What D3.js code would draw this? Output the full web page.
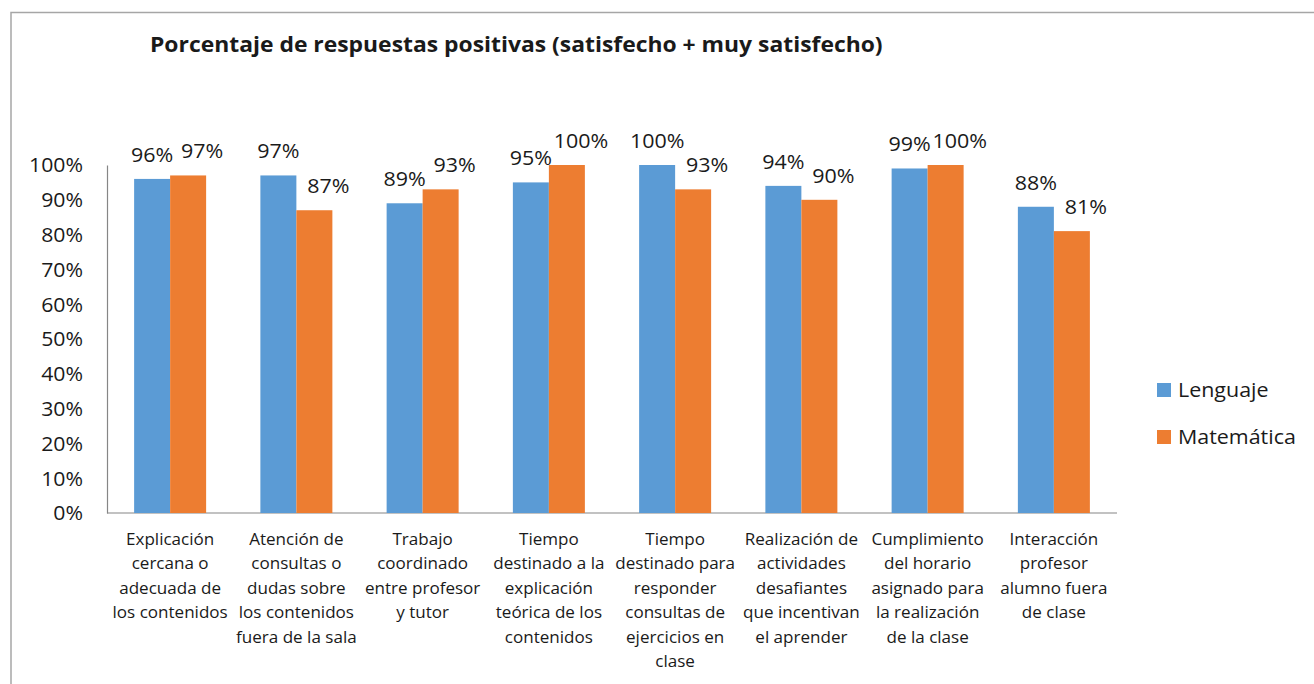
<!DOCTYPE html>
<html>
<head>
<meta charset="utf-8">
<script src="https://cdn.jsdelivr.net/npm/d3@7"></script>
<style>
  body { margin: 0; background: white; }
  text { font-family: "Open Sans", sans-serif; fill: #1a1a1a; }
</style>
</head>
<body>
<div id="viz"></div>
<script>

const width = 1314
const height = 684

// data
const categories = [
    ["Explicación", "cercana o", "adecuada de", "los contenidos"],
    ["Atención de", "consultas o", "dudas sobre", "los contenidos", "fuera de la sala"],
    ["Trabajo", "coordinado", "entre profesor", "y tutor"],
    ["Tiempo", "destinado a la", "explicación", "teórica de los", "contenidos"],
    ["Tiempo", "destinado para", "responder", "consultas de", "ejercicios en", "clase"],
    ["Realización de", "actividades", "desafiantes", "que incentivan", "el aprender"],
    ["Cumplimiento", "del horario", "asignado para", "la realización", "de la clase"],
    ["Interacción", "profesor", "alumno fuera", "de clase"]
]
const seriesNames = ["Lenguaje", "Matemática"]
const lenguaje = [96, 97, 89, 95, 100, 94, 99, 88]
const matematica = [97, 87, 93, 100, 93, 90, 100, 81]
const yTicks = [0, 10, 20, 30, 40, 50, 60, 70, 80, 90, 100]

const colors = ["#5b9bd5", "#ed7d31"]
// the original text is a bit wide, so stretch it sideways
const sx = 1.1

const svg = d3.select("#viz").append("svg").attr("width", width).attr("height", height)

function wideText(parent, x, y) {
    return parent.append("text").attr("transform", `translate(${x}, ${y}) scale(${sx}, 1)`)
}

// frame
svg.append("path").attr("d", `M 11 ${height} L 11 12.5 L ${width} 12.5`)
    .attr("fill", "none").attr("stroke", "#a6a6a6").attr("stroke-width", 1.5)

wideText(svg, 150, 52).attr("font-size", 20.8).attr("font-weight", "bold")
    .text("Porcentaje de respuestas positivas (satisfecho + muy satisfecho)")

const plot = {left: 107, right: 1117, top: 165, bottom: 513}

const xScale = d3.scaleBand().domain(d3.range(categories.length)).range([plot.left, plot.right])
const xInner = d3.scaleBand().domain([0, 1]).range([0, 72])
const yScale = d3.scaleLinear().domain([0, 100]).range([plot.bottom, plot.top])

// y axis
const yAxis = d3.axisLeft(yScale).tickValues(yTicks).tickFormat(d => d + "%").tickSize(0).tickPadding(0)
const yAxisGroup = svg.append("g").attr("transform", `translate(${plot.left}, 0)`).call(yAxis)
yAxisGroup.select(".domain").attr("stroke", "#868686").attr("stroke-width", 1.2)
yAxisGroup.selectAll(".tick text").attr("x", null).attr("dy", "0.36em")
    .attr("transform", `translate(-24, 0) scale(${sx}, 1)`)
    .attr("font-size", 19.3).attr("font-family", "'Open Sans', sans-serif").attr("fill", "#1a1a1a")

// x axis line
svg.append("line").attr("x1", plot.left).attr("x2", plot.right).attr("y1", plot.bottom).attr("y2", plot.bottom)
    .attr("stroke", "#868686").attr("stroke-width", 1.2)

const series = [lenguaje, matematica]
// Excel nudges the second series' labels to the right
const labelNudge = [0, 14]
const barsGroup = svg.append("g")
series.forEach((values, s) => {
    const g = barsGroup.append("g")
    const barX = i => xScale(i) + xScale.bandwidth() / 2 - 36 + xInner(s)
    g.selectAll("rect").data(values).enter().append("rect")
        .attr("x", (d, i) => barX(i))
        .attr("width", xInner.bandwidth())
        .attr("y", d => yScale(d))
        .attr("height", d => plot.bottom - yScale(d))
        .attr("fill", colors[s])
    values.forEach((d, i) => {
        wideText(g, barX(i) + xInner.bandwidth() / 2 + labelNudge[s], yScale(d) - 17)
            .attr("text-anchor", "middle").attr("font-size", 19.5).text(d + "%")
    })
})

// category labels
const catGroup = svg.append("g")
categories.forEach((lines, i) => {
    const t = wideText(catGroup, xScale(i) + xScale.bandwidth() / 2, 545)
        .attr("text-anchor", "middle").attr("font-size", 15.5)
    t.selectAll("tspan").data(lines).enter().append("tspan")
        .attr("x", 0).attr("y", (d, j) => j * 24.4).text(d => d)
})

// legend
const legend = svg.append("g").attr("transform", "translate(1157, 383)")
seriesNames.forEach((name, s) => {
    legend.append("rect").attr("x", 0).attr("y", s * 47).attr("width", 14).attr("height", 14).attr("fill", colors[s])
    wideText(legend, 21, s * 47 + 7).attr("dy", "0.36em").attr("font-size", 19.5).text(name)
})

</script>
</body>
</html>
